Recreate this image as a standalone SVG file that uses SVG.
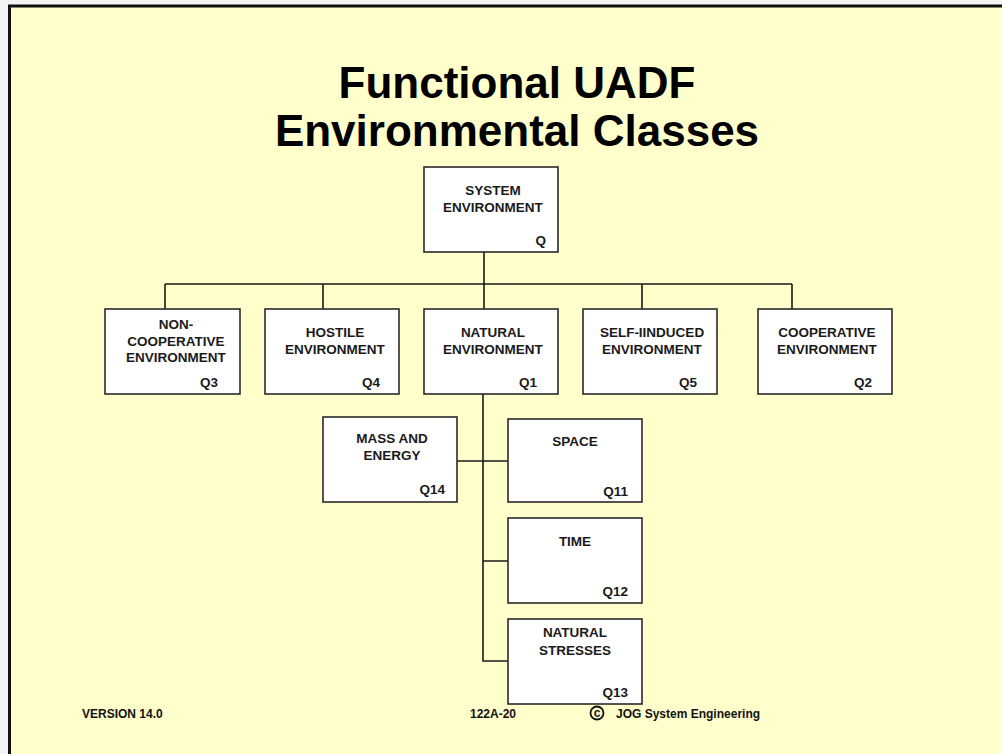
<svg xmlns="http://www.w3.org/2000/svg" width="1002" height="754" viewBox="0 0 1002 754">
<style>
.bx{fill:#fff;stroke:#2a2a2a;stroke-width:1.6}
.t{font-family:"Liberation Sans",Arial,sans-serif;font-weight:bold;font-size:13.5px;fill:#1a1a1a;text-anchor:middle}
.q{font-family:"Liberation Sans",Arial,sans-serif;font-weight:bold;font-size:13.5px;fill:#1a1a1a;text-anchor:end}
.ln{stroke:#1a1a1a;stroke-width:1.6;fill:none}
.title{font-family:"Liberation Sans",Arial,sans-serif;font-weight:bold;font-size:44px;fill:#000;text-anchor:middle}
.ft{font-family:"Liberation Sans",Arial,sans-serif;font-weight:bold;font-size:12px;fill:#111}
</style>
<rect x="0" y="0" width="1002" height="754" fill="#f4f4f4"/>
<rect x="9.5" y="6" width="1000" height="760" fill="#FFFFCC" stroke="#111" stroke-width="3"/>
<text class="title" x="517" y="98">Functional UADF</text>
<text class="title" x="517" y="146">Environmental Classes</text>
<g id="connectors">
<path class="ln" d="M484 252V309M165 284H792M165 284V309M323 284V309M642 284V309M792 284V309"/>
<path class="ln" d="M483 394V661H508M457 461H508M483 561H508"/>
</g>
<g id="sys"><rect class="bx" x="424" y="167" width="134" height="85"/><text class="t" x="493" y="195">SYSTEM</text><text class="t" x="493" y="212">ENVIRONMENT</text><text class="q" x="546" y="245">Q</text></g>
<g id="q3"><rect class="bx" x="105" y="309" width="135" height="85"/><text class="t" x="176" y="329">NON-</text><text class="t" x="176" y="346">COOPERATIVE</text><text class="t" x="176" y="362">ENVIRONMENT</text><text class="q" x="218" y="387">Q3</text></g>
<g id="q4"><rect class="bx" x="265" y="309" width="134" height="85"/><text class="t" x="335" y="337">HOSTILE</text><text class="t" x="335" y="354">ENVIRONMENT</text><text class="q" x="380" y="387">Q4</text></g>
<g id="q1"><rect class="bx" x="424" y="309" width="134" height="85"/><text class="t" x="493" y="337">NATURAL</text><text class="t" x="493" y="354">ENVIRONMENT</text><text class="q" x="537" y="387">Q1</text></g>
<g id="q5"><rect class="bx" x="583" y="309" width="134" height="85"/><text class="t" x="652" y="337">SELF-IINDUCED</text><text class="t" x="652" y="354">ENVIRONMENT</text><text class="q" x="697" y="387">Q5</text></g>
<g id="q2"><rect class="bx" x="758" y="309" width="134" height="85"/><text class="t" x="827" y="337">COOPERATIVE</text><text class="t" x="827" y="354">ENVIRONMENT</text><text class="q" x="872" y="387">Q2</text></g>
<g id="q14"><rect class="bx" x="323" y="417" width="134" height="85"/><text class="t" x="392" y="443">MASS AND</text><text class="t" x="392" y="460">ENERGY</text><text class="q" x="445" y="494">Q14</text></g>
<g id="q11"><rect class="bx" x="508" y="419" width="134" height="83"/><text class="t" x="575" y="446">SPACE</text><text class="q" x="628" y="496">Q11</text></g>
<g id="q12"><rect class="bx" x="508" y="518" width="134" height="85"/><text class="t" x="575" y="546">TIME</text><text class="q" x="628" y="596">Q12</text></g>
<g id="q13"><rect class="bx" x="508" y="619" width="134" height="85"/><text class="t" x="575" y="637">NATURAL</text><text class="t" x="575" y="655">STRESSES</text><text class="q" x="628" y="697">Q13</text></g>
<g id="footer">
<text class="ft" x="82" y="718">VERSION 14.0</text>
<text class="ft" x="470" y="718">122A-20</text>
<circle cx="597" cy="713" r="6.5" fill="none" stroke="#111" stroke-width="1.8"/>
<text class="ft" x="597" y="716.5" font-size="9" text-anchor="middle">c</text>
<text class="ft" x="616" y="718">JOG System Engineering</text>
</g>
</svg>
